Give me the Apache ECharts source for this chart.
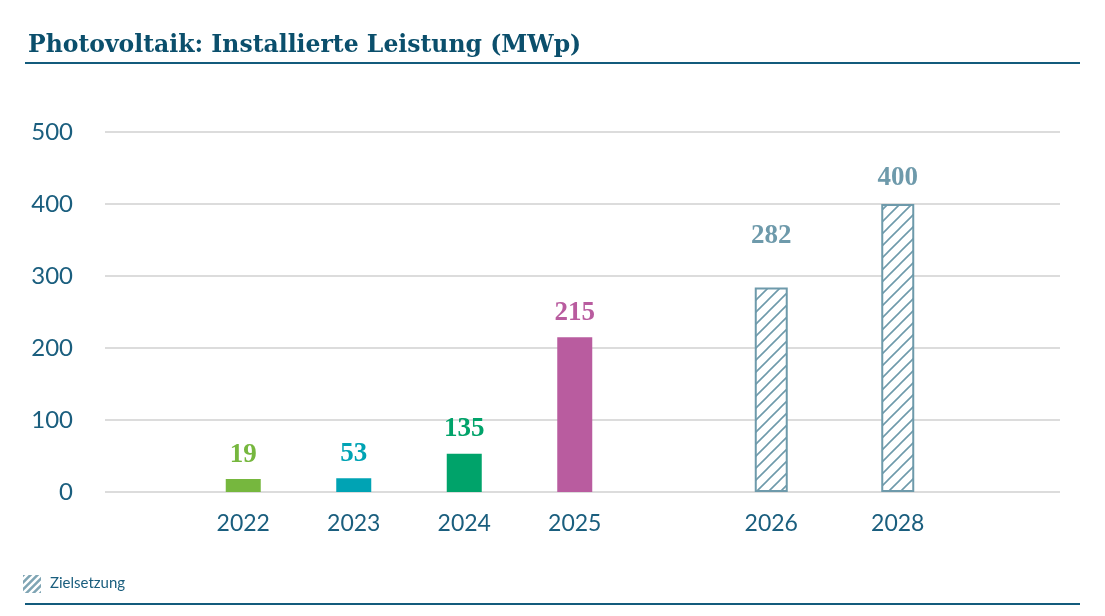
<!DOCTYPE html>
<html>
<head>
<meta charset="utf-8">
<script src="https://cdn.jsdelivr.net/npm/echarts@6/dist/echarts.min.js"></script>
<style>
  html, body { margin: 0; padding: 0; background: #fff; }
  #chart { width: 1105px; height: 616px; }
</style>
</head>
<body>
<div id="chart"></div>
<script>
// Daten
const actualYears = ['2022', '2023', '2024', '2025'];
const actualBars = [18, 19, 53, 215];      // Balkenhöhe wie in der Grafik
const actualLabels = [19, 53, 135, 215];   // beschriftete Werte
const actualColors = ['#76b73e', '#00a3b4', '#00a36a', '#b95c9f'];
const targetYears = ['2026', '2028'];
const targetBars = [284, 400];
const targetLabels = [282, 400];
const yTicks = [0, 100, 200, 300, 400, 500];

const textColor = '#1a5e7e';
const hatchColor = '#6e9aab';

// Schraffur-Muster
function makeHatch(size, lineW, fg, bg) {
  const c = document.createElement('canvas');
  c.width = size; c.height = size;
  const ctx = c.getContext('2d');
  ctx.fillStyle = bg;
  ctx.fillRect(0, 0, size, size);
  ctx.strokeStyle = fg;
  ctx.lineWidth = lineW;
  ctx.beginPath();
  ctx.moveTo(-2, size + 2); ctx.lineTo(size + 2, -2);
  ctx.moveTo(-2, 2); ctx.lineTo(2, -2);
  ctx.moveTo(size - 2, size + 2); ctx.lineTo(size + 2, size - 2);
  ctx.stroke();
  return c;
}
const barHatch = makeHatch(12, 1.6, hatchColor, '#ffffff');
const legendHatch = makeHatch(7, 2.4, '#ffffff', '#7fa5b4');

const myChart = echarts.init(document.getElementById('chart'));

const gridTop = 132, gridBottom = 124;
const labelFont = {
  fontFamily: 'Liberation Serif',
  fontWeight: 'bold',
  fontSize: 27
};

const option = {
  animation: false,
  title: {
    text: 'Photovoltaik: Installierte Leistung (MWp)',
    left: 23,
    top: 29,
    textStyle: {
      fontFamily: 'DejaVu Serif',
      fontWeight: 'bold',
      fontSize: 23.5,
      color: '#0b4f6c'
    }
  },
  grid: [
    { left: 105, right: 45, top: gridTop, bottom: gridBottom },
    { left: 188, width: 442, top: gridTop, bottom: gridBottom },
    { left: 708, width: 253, top: gridTop, bottom: gridBottom }
  ],
  xAxis: [
    { gridIndex: 0, type: 'value', show: false, min: 0, max: 1 },
    {
      gridIndex: 1, type: 'category', data: actualYears,
      axisLine: { show: false }, axisTick: { show: false },
      axisLabel: { color: textColor, fontFamily: 'Lato', fontSize: 23, margin: 20 }
    },
    {
      gridIndex: 2, type: 'category', data: targetYears,
      axisLine: { show: false }, axisTick: { show: false },
      axisLabel: { color: textColor, fontFamily: 'Lato', fontSize: 23, margin: 20 }
    }
  ],
  yAxis: [
    {
      gridIndex: 0, type: 'value', min: yTicks[0], max: yTicks[yTicks.length - 1], interval: 100,
      axisLine: { show: false }, axisTick: { show: false },
      axisLabel: { color: textColor, fontFamily: 'Lato', fontSize: 24, margin: 32 },
      splitLine: { lineStyle: { color: '#dcdcdc', width: 2 } }
    },
    { gridIndex: 1, type: 'value', min: 0, max: 500, show: false },
    { gridIndex: 2, type: 'value', min: 0, max: 500, show: false }
  ],
  series: [
    {
      type: 'bar',
      xAxisIndex: 1, yAxisIndex: 1,
      barWidth: 35,
      data: actualBars.map((v, i) => ({
        value: v,
        itemStyle: { color: actualColors[i] },
        label: { color: actualColors[i] }
      })),
      label: {
        show: true, position: 'top', distance: 11,
        formatter: (p) => actualLabels[p.dataIndex],
        ...labelFont
      }
    },
    {
      type: 'bar',
      xAxisIndex: 2, yAxisIndex: 2,
      barWidth: 33,
      data: targetBars.map((v, i) => ({
        value: v,
        // Beschriftung 2026 sitzt in der Vorlage höher
        label: i === 0 ? { offset: [0, -26] } : {}
      })),
      itemStyle: {
        color: { image: barHatch, repeat: 'repeat' },
        borderColor: hatchColor,
        borderWidth: 2
      },
      label: {
        show: true, position: 'top', distance: 12,
        formatter: (p) => targetLabels[p.dataIndex],
        color: hatchColor,
        ...labelFont
      }
    }
  ],
  graphic: [
    { type: 'rect', shape: { x: 25, y: 62, width: 1055, height: 2 }, style: { fill: '#135b7c' } },
    { type: 'rect', shape: { x: 25, y: 603, width: 1055, height: 2 }, style: { fill: '#135b7c' } },
    {
      type: 'rect', shape: { x: 23, y: 575, width: 18, height: 18 },
      style: { fill: { image: legendHatch, repeat: 'repeat' } }
    },
    {
      type: 'text', left: 50, top: 576,
      style: { text: 'Zielsetzung', fill: textColor, font: '15px Lato' }
    }
  ]
};

myChart.setOption(option);
window.addEventListener('resize', function () {
  myChart.resize();
});
</script>
</body>
</html>
